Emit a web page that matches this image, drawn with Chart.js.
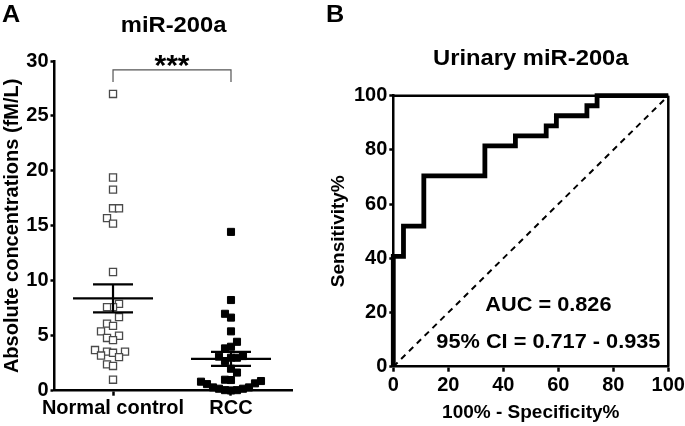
<!DOCTYPE html>
<html><head><meta charset="utf-8">
<script src="https://cdn.jsdelivr.net/npm/chart.js@4"></script>
<style>
html,body{margin:0;padding:0;background:#fff;width:685px;height:426px;overflow:hidden}
#cA{position:absolute;left:0;top:0}
#cB{position:absolute;left:320px;top:0}
</style></head><body>
<canvas id="cA" width="320" height="426"></canvas>
<canvas id="cB" width="365" height="426"></canvas>
<script>
// ---------- data ----------
const groups = ['Normal control', 'RCC'];
const normalValues = [27.0, 19.4, 18.3, 16.6, 16.6, 15.7, 15.2, 10.8, 7.9, 7.6, 7.6, 6.7, 6.1, 5.9, 5.4, 5.0, 4.8, 4.6, 3.7, 3.55, 3.55, 3.45, 3.2, 3.05, 2.4, 2.25, 1.0];
const rccValues = [14.45, 8.25, 7.0, 6.65, 5.4, 4.45, 4.0, 3.85, 3.15, 3.0, 3.0, 3.1, 2.7, 2.0, 1.65, 1.0, 0.97, 0.82, 0.88, 0.67, 0.6, 0.3, 0.3, 0.18, 0.18, 0.05, 0.05, 0.02];
const groupMeans = [8.4, 2.9];
const groupSems = [1.28, 0.64];
const concTicks = [0, 5, 10, 15, 20, 25, 30];
const rocFpr = [0, 0, 3.7, 11.1, 33.3, 44.4, 55.6, 59.3, 70.4, 74.1, 100];
const rocTpr = [0, 40.7, 51.9, 70.4, 81.5, 85.2, 88.9, 92.6, 96.3, 100, 100];
const refLineX = [0, 100];
const refLineY = [0, 100];
const pctTicks = [0, 20, 40, 60, 80, 100];
const aucText = 'AUC = 0.826';
const ciText = '95% CI = 0.717 - 0.935';
const sigText = '***';

// ---------- layout ----------
const FONT = "'Liberation Sans', Arial, Helvetica, sans-serif";
const A_LEFT = 54.5, A_RIGHT = 292.7, A_TOP = 61, A_BOTTOM = 390.7, A_W = 320, H = 426;
const X_MIN = 0.504, X_MAX = 2.523;
const pxPerX = (A_RIGHT - A_LEFT) / (X_MAX - X_MIN);
const pxPerY = (A_BOTTOM - A_TOP) / 30;

function swarm(values, stepPx, gapPx) {
  const idx = values.map((v, i) => i).sort((a, b) => values[a] - values[b]);
  const placed = [];
  const off = new Array(values.length).fill(0);
  for (const i of idx) {
    const yp = values[i] * pxPerY;
    for (let k = 0; k < 60; k++) {
      const s = k === 0 ? 0 : (k % 2 ? -Math.ceil(k / 2) : k / 2);
      if (placed.every(p => p.s !== s || Math.abs(p.y - yp) >= gapPx)) {
        placed.push({s, y: yp});
        off[i] = s * stepPx;
        break;
      }
    }
  }
  return off;
}
const offN = swarm(normalValues, 6, 11);
const offR = swarm(rccValues, 6, 10);

function drawScaledText(ctx, text, x, y, size, sx) {
  ctx.save();
  ctx.font = 'bold ' + size + 'px ' + FONT;
  ctx.textAlign = 'center';
  ctx.textBaseline = 'alphabetic';
  ctx.translate(x, y);
  ctx.scale(sx, 1);
  ctx.fillStyle = '#000';
  ctx.fillText(text, 0, 0);
  ctx.restore();
}
function seg(ctx, x1, y1, x2, y2) { ctx.beginPath(); ctx.moveTo(x1, y1); ctx.lineTo(x2, y2); ctx.stroke(); }

const tickFont = {family: FONT, size: 20, weight: 'bold'};
const titleFont = {family: FONT, size: 20, weight: 'bold'};

// ---------- panel A ----------
const panelA = {
  id: 'panelA',
  afterDatasetsDraw(chart) {
    const {ctx, chartArea, scales: {x, y}} = chart;
    ctx.save();
    ctx.strokeStyle = '#000';
    ctx.lineWidth = 2.2;
    groupMeans.forEach((m, i) => {
      const cx = x.getPixelForValue(i + 1);
      const ym = y.getPixelForValue(m);
      const yt = y.getPixelForValue(m + groupSems[i]);
      const yb = y.getPixelForValue(m - groupSems[i]);
      seg(ctx, cx - 40, ym, cx + 40, ym);
      seg(ctx, cx, yt, cx, yb);
      seg(ctx, cx - 20, yt, cx + 20, yt);
      seg(ctx, cx - 20, yb, cx + 20, yb);
    });
    // significance bracket
    const x1 = x.getPixelForValue(1), x2 = x.getPixelForValue(2);
    const yb = y.getPixelForValue(29.2), yd = y.getPixelForValue(28.1);
    ctx.strokeStyle = '#555';
    ctx.lineWidth = 1.2;
    ctx.beginPath();
    ctx.moveTo(x1, yd); ctx.lineTo(x1, yb); ctx.lineTo(x2, yb); ctx.lineTo(x2, yd);
    ctx.stroke();
    ctx.restore();
    drawScaledText(ctx, sigText, (x1 + x2) / 2, yb + 5, 30, 1);
    drawScaledText(ctx, 'miR-200a', (chartArea.left + chartArea.right) / 2, 31.5, 22, 1.08);
    drawScaledText(ctx, 'A', 11, 21.7, 24, 1.05);
  }
};

new Chart(document.getElementById('cA'), {
  type: 'scatter',
  data: {
    datasets: [
      {label: groups[0], data: normalValues.map((v, i) => ({x: 1 + offN[i] / pxPerX, y: v})),
       pointStyle: 'rect', pointRadius: 5, backgroundColor: '#fff', borderColor: '#4a4a4a', borderWidth: 1.3, clip: false},
      {label: groups[1], data: rccValues.map((v, i) => ({x: 2 + offR[i] / pxPerX, y: v})),
       pointStyle: 'rect', pointRadius: 5, backgroundColor: '#000', borderColor: '#000', borderWidth: 1, clip: false}
    ]
  },
  options: {
    responsive: false, animation: false, devicePixelRatio: 1,
    layout: {padding: {left: 0, right: A_W - A_RIGHT, top: A_TOP, bottom: 0}},
    plugins: {legend: {display: false}, tooltip: {enabled: false}},
    scales: {
      x: {
        type: 'linear', min: X_MIN, max: X_MAX,
        afterBuildTicks: s => { s.ticks = groups.map((g, i) => ({value: i + 1})); },
        ticks: {callback: v => groups[Math.round(v) - 1] || '', font: tickFont, color: '#000', padding: 1, maxRotation: 0, autoSkip: false},
        grid: {drawOnChartArea: false, drawTicks: true, tickLength: 5, tickWidth: 2.5, tickColor: '#000'},
        border: {color: '#000', width: 2.5},
        afterFit: s => { s.height = H - A_BOTTOM; s.paddingLeft = 0; s.paddingRight = 0; }
      },
      y: {
        type: 'linear', min: 0, max: 30,
        afterBuildTicks: s => { s.ticks = concTicks.map(v => ({value: v})); },
        ticks: {font: tickFont, color: '#000', padding: 2},
        grid: {drawOnChartArea: false, drawTicks: true, tickLength: 4, tickWidth: 2.5, tickColor: '#000'},
        border: {color: '#000', width: 2.5},
        title: {display: true, text: 'Absolute concentrations (fM/L)', font: titleFont, color: '#000', padding: {top: 0, bottom: 0}},
        afterFit: s => { s.width = A_LEFT; s.paddingTop = 0; s.paddingBottom = 0; }
      }
    }
  },
  plugins: [panelA]
});

// ---------- panel B ----------
const B_OFF = 320, B_W = 365;
const B_LEFT = 393.3 - B_OFF, B_RIGHT = 668.3 - B_OFF, B_TOP = 95.7, B_BOTTOM = 366.7;

const panelB = {
  id: 'panelB',
  afterDatasetsDraw(chart) {
    const {ctx, chartArea, scales: {x, y}} = chart;
    ctx.save();
    ctx.strokeStyle = '#000';
    ctx.lineWidth = 2.5;
    seg(ctx, chartArea.left, chartArea.top, chartArea.right, chartArea.top);
    seg(ctx, chartArea.right, chartArea.top, chartArea.right, chartArea.bottom);
    ctx.restore();
    drawScaledText(ctx, aucText, x.getPixelForValue(56.4), y.getPixelForValue(23.5) + 8, 20.5, 1.06);
    drawScaledText(ctx, ciText, x.getPixelForValue(56.4), y.getPixelForValue(9.85) + 8, 20.5, 1.06);
    drawScaledText(ctx, 'Urinary miR-200a', (chartArea.left + chartArea.right) / 2, 65, 22, 1.08);
    drawScaledText(ctx, 'B', 15, 21.7, 24, 1.05);
  }
};

new Chart(document.getElementById('cB'), {
  type: 'scatter',
  data: {
    datasets: [
      {type: 'line', data: refLineX.map((v, i) => ({x: v, y: refLineY[i]})), borderColor: '#000', borderWidth: 2,
       borderDash: [6, 5], pointRadius: 0, fill: false},
      {type: 'line', data: rocFpr.map((v, i) => ({x: v, y: rocTpr[i]})), stepped: 'before', borderColor: '#000',
       borderWidth: 4.8, pointRadius: 0, fill: false, clip: false, borderJoinStyle: 'miter'}
    ]
  },
  options: {
    responsive: false, animation: false, devicePixelRatio: 1,
    layout: {padding: {left: 0, right: B_W - B_RIGHT, top: B_TOP, bottom: 0}},
    plugins: {legend: {display: false}, tooltip: {enabled: false}},
    scales: {
      x: {
        type: 'linear', min: 0, max: 100,
        afterBuildTicks: s => { s.ticks = pctTicks.map(v => ({value: v})); },
        ticks: {font: tickFont, color: '#000', padding: 1.5, maxRotation: 0, autoSkip: false},
        grid: {drawOnChartArea: false, drawTicks: true, tickLength: 5, tickWidth: 2.5, tickColor: '#000'},
        border: {color: '#000', width: 2.5},
        title: {display: true, text: '100% - Specificity%', font: {family: FONT, size: 19, weight: 'bold'}, color: '#000', padding: {top: 0, bottom: 1.6}},
        afterFit: s => { s.height = H - B_BOTTOM; s.paddingLeft = 0; s.paddingRight = 0; }
      },
      y: {
        type: 'linear', min: 0, max: 100,
        afterBuildTicks: s => { s.ticks = pctTicks.map(v => ({value: v})); },
        ticks: {font: tickFont, color: '#000', padding: 2},
        grid: {drawOnChartArea: false, drawTicks: true, tickLength: 4, tickWidth: 2.5, tickColor: '#000'},
        border: {color: '#000', width: 2.5},
        title: {display: true, text: 'Sensitivity%', font: {family: FONT, size: 19, weight: 'bold'}, color: '#000', padding: {top: 7.6, bottom: 0}},
        afterFit: s => { s.width = B_LEFT; s.paddingTop = 0; s.paddingBottom = 0; }
      }
    }
  },
  plugins: [panelB]
});
</script>
</body></html>
